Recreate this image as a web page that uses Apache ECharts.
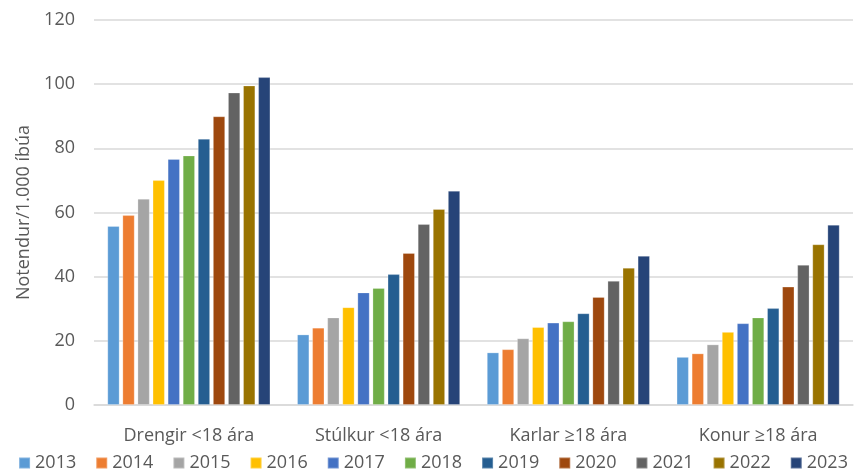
<!DOCTYPE html>
<html>
<head>
<meta charset="utf-8">
<script src="https://cdn.jsdelivr.net/npm/echarts@6/dist/echarts.min.js"></script>
<style>
  html, body { margin: 0; padding: 0; background: #fff; }
  #chart { width: 866px; height: 474px; }
</style>
</head>
<body>
<div id="chart"></div>
<script>
const categories = ['Drengir <18 ára', 'Stúlkur <18 ára', 'Karlar ≥18 ára', 'Konur ≥18 ára']
const years = ['2013', '2014', '2015', '2016', '2017', '2018', '2019', '2020', '2021', '2022', '2023']
// one row per year, values per category
const values = [
  [55.8, 22.0, 16.4, 15.0],
  [59.2, 24.1, 17.4, 16.1],
  [64.3, 27.3, 20.8, 18.9],
  [70.1, 30.5, 24.3, 22.8],
  [76.7, 35.1, 25.7, 25.5],
  [77.8, 36.5, 26.1, 27.3],
  [83.0, 40.8, 28.6, 30.2],
  [90.0, 47.4, 33.7, 36.9],
  [97.4, 56.4, 38.7, 43.7],
  [99.6, 61.1, 42.8, 50.1],
  [102.2, 66.8, 46.5, 56.2]
]
const colors = ['#5B9BD5', '#ED7D31', '#A5A5A5', '#FFC000', '#4472C4', '#70AD47',
  '#255E91', '#9E480E', '#636363', '#997300', '#264478']

const font = '"Open Sans", sans-serif'
const chart = echarts.init(document.getElementById('chart'))

chart.setOption({
  animation: false,
  color: colors,
  textStyle: { fontFamily: font },
  grid: { left: 94, right: 13, top: 20, bottom: 69 },
  legend: {
    bottom: -3,
    left: 'center',
    itemWidth: 11,
    itemHeight: 11,
    itemGap: 19,
    icon: 'rect',
    textStyle: { fontSize: 18, color: '#595959', fontFamily: font },
    data: years
  },
  xAxis: {
    type: 'category',
    data: categories,
    axisTick: { show: false },
    axisLine: { lineStyle: { color: '#D9D9D9', width: 1.5 } },
    axisLabel: { fontSize: 18, color: '#595959', margin: 22 }
  },
  yAxis: {
    type: 'value',
    min: 0,
    max: 120,
    interval: 20,
    name: 'Notendur/1.000 íbúa',
    nameLocation: 'middle',
    nameGap: 61,
    nameTextStyle: { fontSize: 18, color: '#595959' },
    axisLabel: { fontSize: 18, color: '#595959', margin: 19 },
    splitLine: { lineStyle: { color: '#D9D9D9', width: 1.5 } }
  },
  series: years.map((y, i) => ({
    name: y,
    type: 'bar',
    data: values[i],
    barGap: '22%',
    barCategoryGap: '14%',
    itemStyle: { borderColor: 'rgba(255,255,255,0.25)', borderWidth: 1 }
  }))
})
</script>
</body>
</html>
